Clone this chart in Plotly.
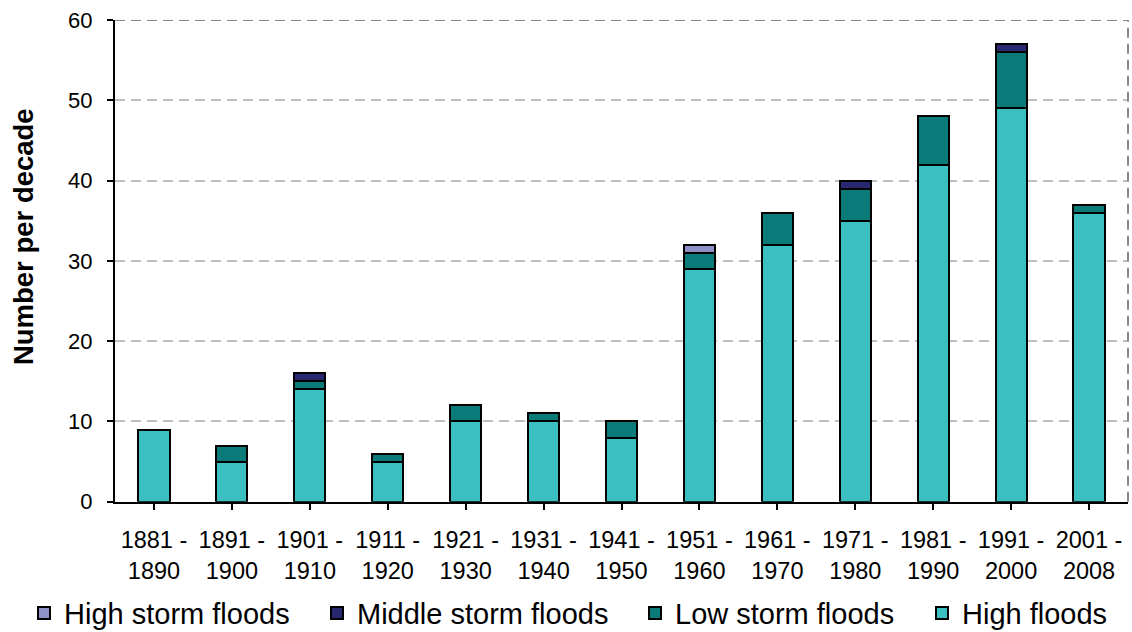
import plotly.graph_objects as go

# Decades (two-line tick labels)
decades = [
    "1881 -<br>1890", "1891 -<br>1900", "1901 -<br>1910", "1911 -<br>1920",
    "1921 -<br>1930", "1931 -<br>1940", "1941 -<br>1950", "1951 -<br>1960",
    "1961 -<br>1970", "1971 -<br>1980", "1981 -<br>1990", "1991 -<br>2000",
    "2001 -<br>2008",
]

# Number of events per decade, by type
high_floods = [9, 5, 14, 5, 10, 10, 8, 29, 32, 35, 42, 49, 36]
low_storm_floods = [0, 2, 1, 1, 2, 1, 2, 2, 4, 4, 6, 7, 1]
middle_storm_floods = [0, 0, 1, 0, 0, 0, 0, 0, 0, 1, 0, 1, 0]
high_storm_floods = [0, 0, 0, 0, 0, 0, 0, 1, 0, 0, 0, 0, 0]

y_ticks = [0, 10, 20, 30, 40, 50, 60]

FONT = "Liberation Sans, Arial, sans-serif"
DASH = "10px,6px"

W, H = 1132, 632
M_L, M_R, M_T, M_B = 115, 4, 20, 126

# Stacked from the bottom up; each series gets its own legend slot
series = [
    ("High floods", high_floods, "#3cbfc1", "legend4"),
    ("Low storm floods", low_storm_floods, "#0b7b79", "legend3"),
    ("Middle storm floods", middle_storm_floods, "#282870", "legend2"),
    ("High storm floods", high_storm_floods, "#9090c8", "legend"),
]

fig = go.Figure()
for name, vals, color, leg in series:
    fig.add_trace(go.Bar(
        x=list(range(len(decades))),
        y=vals,
        name=name,
        legend=leg,
        showlegend=True,
        marker=dict(color=color, line=dict(color="black", width=2)),
    ))

legend_style = dict(
    orientation="h",
    xref="container", yref="container",
    xanchor="left", yanchor="middle",
    y=0.03,
    font=dict(family=FONT, size=29, color="black"),
    bgcolor="rgba(0,0,0,0)",
    itemclick=False,
)

# Axis title placed in pixel terms left of the plot area
plot_w = W - M_L - M_R
plot_h = H - M_T - M_B
title_x = (23 - M_L) / plot_w
title_y = (H - M_B - 239) / plot_h

fig.update_layout(
    width=W, height=H,
    margin=dict(l=M_L, r=M_R, t=M_T, b=M_B),
    paper_bgcolor="white", plot_bgcolor="white",
    barmode="stack",
    bargap=0.6,
    showlegend=True,
    font=dict(family=FONT, color="black"),
    legend=dict(x=24 / W, **legend_style),
    legend2=dict(x=317 / W, **legend_style),
    legend3=dict(x=635 / W, **legend_style),
    legend4=dict(x=922 / W, **legend_style),
    xaxis=dict(
        range=[-0.5, len(decades) - 0.5],
        tickmode="array",
        tickvals=list(range(len(decades))),
        ticktext=decades,
        tickson="boundaries",
        ticks="outside", ticklen=6, tickwidth=2, tickcolor="black",
        showline=True, linecolor="black", linewidth=2,
        showgrid=False, zeroline=False,
        tickfont=dict(family=FONT, size=23.5, color="black"),
        ticklabelstandoff=10,
    ),
    yaxis=dict(
        range=[0, 60],
        tickmode="array",
        tickvals=y_ticks,
        ticks="outside", ticklen=6, tickwidth=2, tickcolor="black",
        showline=True, linecolor="black", linewidth=2,
        showgrid=True, gridcolor="#bfbfbf", gridwidth=2, griddash=DASH,
        zeroline=False,
        tickfont=dict(family=FONT, size=22, color="black"),
        ticklabelstandoff=10,
    ),
    annotations=[
        dict(text="<b>Number per decade</b>", textangle=-90,
             xref="paper", yref="paper", x=title_x, y=title_y,
             xanchor="center", yanchor="middle", showarrow=False,
             font=dict(family=FONT, size=27.5, color="black")),
    ],
    shapes=[
        dict(type="line", xref="paper", yref="y", x0=0, x1=1, y0=60, y1=60,
             line=dict(color="#888888", width=2, dash=DASH)),
        dict(type="line", xref="paper", yref="paper", x0=1, x1=1, y0=0, y1=1,
             line=dict(color="#888888", width=2, dash=DASH)),
    ],
)

fig.write_html("out.html")
